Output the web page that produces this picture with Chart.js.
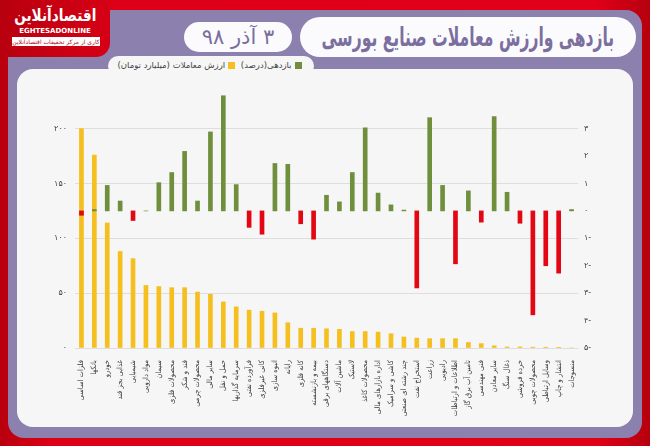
<!DOCTYPE html>
<html lang="fa">
<head>
<meta charset="utf-8">
<script src="https://cdn.jsdelivr.net/npm/chart.js@4.4.0/dist/chart.umd.min.js"></script>
<style>
  html, body { margin: 0; padding: 0; }
  body {
    width: 650px; height: 446px; position: relative; overflow: hidden;
    background: linear-gradient(90deg, #b8000f 0%, #de0016 8%, #e00018 92%, #b5000e 100%);
    font-family: "DejaVu Sans", sans-serif;
  }
  .frame {
    position: absolute; left: 8px; top: 10px; width: 634px; height: 428px;
    background: #8c80ae; border-radius: 16px;
  }
  .logo {
    position: absolute; left: 0; top: 0; width: 110px; height: 57px;
    background: linear-gradient(90deg, #b8000f, #d60015);
    border-bottom-right-radius: 14px;
    color: #fff; text-align: center; white-space: nowrap;
  }
  .logo .fa { position: absolute; left: 4px; top: 4px; width: 100px; font-size: 17px; font-weight: bold; line-height: 22px; }
  .logo .fa span { display: inline-block; transform: scaleX(0.8); }
  .logo .en { position: absolute; left: 10px; top: 27px; width: 90px; font-size: 7px; font-weight: bold; }
  .logo .tag { position: absolute; left: 12px; top: 37px; width: 88px; height: 9px; background: #fff; color: #c00012; font-size: 6px; line-height: 9px; direction: rtl; }
  .panel {
    position: absolute; left: 17px; top: 69px; width: 616px; height: 358px;
    background: #f6f6f6; border-radius: 16px;
  }
  .title {
    position: absolute; left: 300px; top: 17px; width: 336px; height: 40px;
    background: #fbfbfd; border-radius: 20px; color: #7b6f9f;
    font-size: 26px; font-weight: bold; line-height: 40px; text-align: center;
    white-space: nowrap; direction: rtl;
  }
  .title span { display: inline-block; transform: scaleX(0.6); transform-origin: center; margin: 0 -120px; }
  .date {
    position: absolute; left: 184px; top: 22px; width: 108px; height: 30px;
    background: #fbfbfd; border-radius: 15px; color: #7b6f9f;
    font-size: 21px; line-height: 30px; text-align: center; direction: rtl; white-space: nowrap;
  }
  .legend {
    position: absolute; left: 108px; top: 56px; width: 206px; height: 20px;
    background: #f6f6f6; border-radius: 10px; font-size: 8.5px; color: #444;
    line-height: 18px; direction: rtl; text-align: center; white-space: nowrap;
  }
  .legend i { display: inline-block; width: 7px; height: 7px; margin: 0 3px; vertical-align: -1px; }
  #myChart { position: absolute; left: 0; top: 0; }
</style>
</head>
<body>
<div class="frame"></div>
<div class="logo">
  <div class="fa"><span>اقتصادآنلاین</span></div>
  <div class="en">EGHTESADONLINE</div>
  <div class="tag">کاری از مرکز تحقیقات اقتصادآنلاین</div>
</div>
<div class="title"><span>بازدهی وارزش معاملات صنایع بورسی</span></div>
<div class="date">۳ آذر ۹۸</div>
<div class="panel"></div>
<div class="legend"><i style="background:#6f8f3c"></i>بازدهی(درصد) <i style="background:#f5bf1f"></i>ارزش معاملات (میلیارد تومان)</div>
<canvas id="myChart" width="650" height="446"></canvas>
<script>
const industries = [
    'فلزات اساسی', 'بانکها', 'خودرو', 'غذایی بجز قند', 'شیمیایی', 'مواد دارویی', 'سیمان',
    'محصولات فلزی', 'قند و شکر', 'محصولات چرمی', 'سایر مالی', 'حمل و نقل', 'سرمایه گذاریها',
    'فرآورده نفتی', 'کانی غیرفلزی', 'انبوه سازی', 'رایانه', 'کانه فلزی', 'بیمه و بازنشسته',
    'دستگاههای برقی', 'ماشین آلات', 'لاستیک', 'محصولات کاغذ', 'اداره بازارهای مالی',
    'کاشی و سرامیک', 'چند رشته ای صنعتی', 'استخراج نفت', 'زراعت', 'رادیویی',
    'اطلاعات و ارتباطات', 'تامین آب برق گاز', 'فنی مهندسی', 'سایر معادن', 'ذغال سنگ',
    'خرده فروشی', 'محصولات چوبی', 'وسایل ارتباطی', 'انتشار و چاپ', 'منسوجات'
];

// ارزش معاملات (میلیارد تومان)
const tradeValue = [
    200, 176, 114, 88, 81.5, 57, 56, 55, 55, 51, 49, 42, 37.5, 34.5, 33.5, 32, 23, 18, 18,
    17.5, 17, 15, 15, 14.5, 13, 10, 9, 8.5, 8.5, 8.5, 5, 4, 2, 1, 1, 0.8, 0.7, 0.6, 0
];

// بازدهی (درصد)
const returnPct = [
    -0.16, 0.05, 0.93, 0.36, -0.35, 0, 1.03, 1.4, 2.17, 0.36, 2.88, 4.2, 0.96, -0.6, -0.85,
    1.73, 1.7, -0.47, -1.03, 0.57, 0.33, 1.4, 3.03, 0.65, 0.22, 0.03, -2.81, 3.4, 0.93, -1.93,
    0.73, -0.41, 3.44, 0.68, -0.45, -3.79, -2.0, -2.27, 0.05
];

const leftTicks = [0, 50, 100, 150, 200];
const rightTicks = [-5, -4, -3, -2, -1, 0, 1, 2, 3];

function toFa(n) {
    const digits = '۰۱۲۳۴۵۶۷۸۹';
    const s = String(Math.abs(n)).replace(/\d/g, d => digits[d]);
    return n < 0 ? s + '-' : s;
}

const ctx = document.getElementById('myChart').getContext('2d');
new Chart(ctx, {
    type: 'bar',
    data: {
        labels: industries,
        datasets: [{
            label: 'بازدهی(درصد)',
            data: returnPct,
            yAxisID: 'yRight',
            backgroundColor: returnPct.map(v => v < 0 ? '#e30613' : '#6f8f3c'),
            barThickness: 4,
            grouped: false,
            order: 0
        }, {
            label: 'ارزش معاملات (میلیارد تومان)',
            data: tradeValue,
            yAxisID: 'yLeft',
            backgroundColor: '#f5bf1f',
            barThickness: 4,
            grouped: false,
            order: 1
        }]
    },
    options: {
        responsive: false,
        animation: false,
        layout: { padding: { left: 17, right: 17, top: 93, bottom: 19 } },
        plugins: { legend: { display: false }, tooltip: { enabled: false } },
        scales: {
            x: {
                grid: { display: false },
                border: { display: false },
                afterFit(scale) { scale.height = 79; },
                ticks: {
                    autoSkip: false,
                    minRotation: 90,
                    maxRotation: 90,
                    padding: 4,
                    color: '#3a3a3a',
                    font: { family: 'DejaVu Sans Condensed', size: 7.5 }
                }
            },
            yLeft: {
                position: 'left',
                min: 0,
                max: 232.5,
                afterBuildTicks(scale) { scale.ticks = leftTicks.map(v => ({ value: v })); },
                afterFit(scale) { scale.width = 58; },
                grid: { color: '#dedede', drawTicks: false },
                border: { display: false },
                ticks: {
                    padding: 8,
                    color: '#444',
                    font: { family: 'DejaVu Sans', size: 8 },
                    callback: v => toFa(v)
                }
            },
            yRight: {
                position: 'right',
                min: -5,
                max: 4.3,
                afterBuildTicks(scale) { scale.ticks = rightTicks.map(v => ({ value: v })); },
                afterFit(scale) { scale.width = 55; },
                grid: { display: false, drawTicks: false },
                border: { display: false },
                ticks: {
                    padding: 6,
                    color: '#444',
                    font: { family: 'DejaVu Sans', size: 8 },
                    callback: v => toFa(v)
                }
            }
        }
    }
});
</script>
</body>
</html>
